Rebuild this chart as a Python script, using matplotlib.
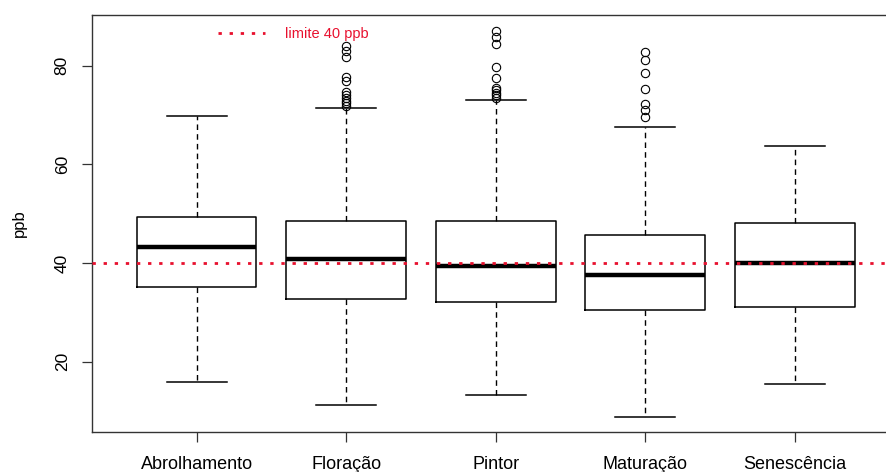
import matplotlib
matplotlib.use("Agg")
import matplotlib.pyplot as plt
from matplotlib.lines import Line2D

plt.rcParams['font.family'] = ['Liberation Sans', 'DejaVu Sans']

# fases fenologicas
fases = ['Abrolhamento', 'Floração', 'Pintor', 'Maturação', 'Senescência']

# estatisticas (ppb)
minimos = [15.9, 11.2, 13.3, 8.8, 15.4]
q1 = [35.1, 32.75, 32.1, 30.4, 31.1]
medianas = [43.2, 40.75, 39.45, 37.6, 39.9]
q3 = [49.3, 48.6, 48.6, 45.6, 48.1]
maximos = [69.8, 71.4, 73.1, 67.6, 63.7]
outliers = [
    [],
    [84.0, 83.0, 81.8, 77.8, 77.0, 74.6, 74.0, 73.4, 72.9, 72.4, 71.9],
    [87.0, 85.8, 84.4, 79.8, 77.6, 75.5, 75.0, 74.5, 74.0, 73.5],
    [82.7, 81.2, 78.5, 75.3, 72.3, 71.1, 69.7],
    [],
]
limite = 40
yticks = [20, 40, 60, 80]

stats = []
for i in range(len(fases)):
    stats.append({'whislo': minimos[i], 'q1': q1[i], 'med': medianas[i],
                  'q3': q3[i], 'whishi': maximos[i], 'fliers': outliers[i]})

fig = plt.figure(figsize=(8.86, 4.72), dpi=100)
ax = fig.add_axes([0.1038, 0.0847, 0.9114, 0.8835])

ax.bxp(stats, positions=range(1, 6), widths=0.8,
       boxprops=dict(color='black', linewidth=1.1),
       medianprops=dict(color='black', linewidth=3.2, solid_capstyle='butt'),
       whiskerprops=dict(color='black', linewidth=1.0, linestyle=(0, (4, 3))),
       capprops=dict(color='black', linewidth=1.1),
       capwidths=0.4,
       flierprops=dict(marker='o', markerfacecolor='none', markeredgecolor='black',
                       markersize=6, markeredgewidth=0.8, linestyle='none'))

ax.axhline(limite, color='#e8102e', linestyle=(0, (1.2, 2.8)), linewidth=2.0, zorder=5)

ax.set_xlim(0.3, 5.7)
ax.set_ylim(5.7, 90.3)
ax.set_xticks(range(1, 6))
ax.set_xticklabels(fases, fontsize=13)
ax.set_yticks(yticks)
ax.set_yticklabels([str(t) for t in yticks], rotation=90, va='center', fontsize=12.5)
ax.tick_params(axis='both', direction='out', length=7, width=0.9, color='#333333')
ax.tick_params(axis='x', pad=10)
ax.tick_params(axis='y', pad=9)
ax.set_ylabel('ppb', fontsize=12, labelpad=20)
for s in ax.spines.values():
    s.set_linewidth(1.0)
    s.set_color('#333333')

handle = Line2D([], [], color='#e8102e', linestyle=(0, (1.2, 2.8)), linewidth=2.0)
ax.legend([handle], ['limite 40 ppb'], loc='upper left', bbox_to_anchor=(0.14, 1.003),
          frameon=False, fontsize=10.5, labelcolor='#e8102e', handlelength=3.2,
          handletextpad=1.4)

fig.savefig('out.png', dpi=100)
